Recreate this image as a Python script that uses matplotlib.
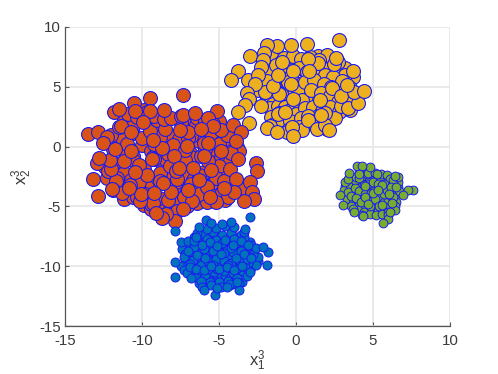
import matplotlib
matplotlib.use("Agg")
import matplotlib.pyplot as plt

plt.rcParams['font.family'] = ['Liberation Sans', 'DejaVu Sans']
plt.rcParams['axes.unicode_minus'] = False
plt.rcParams['mathtext.fontset'] = 'custom'
plt.rcParams['mathtext.rm'] = 'Liberation Sans'
plt.rcParams['mathtext.it'] = 'Liberation Sans'
plt.rcParams['mathtext.default'] = 'regular'

x_ticks = [-15, -10, -5, 0, 5, 10]
y_ticks = [-15, -10, -5, 0, 5, 10]

orange_x = [-11.2,-10.6,-9.9,-9.3,-8.7,-8.1,-7.4,-6.8,-6.2,-5.6,-5.0,-4.4,
 -11.9,-11.3,-10.6,-10.0,-9.4,-8.8,-8.2,-7.6,-6.9,-6.3,-5.7,-5.1,-4.5,-3.8,
 -12.4,-11.8,-11.2,-10.5,-9.9,-9.3,-8.7,-8.0,-7.4,-6.8,-6.2,-5.6,-4.9,-4.3,-3.7,
 -11.6,-11.0,-10.4,-9.8,-9.1,-8.5,-7.9,-7.3,-6.7,-6.0,-5.4,-4.8,-4.1,-3.5,
 -11.2,-10.6,-9.9,-9.4,-8.8,-8.2,-7.6,-7.0,-6.4,-5.8,-5.2,-4.6,
 -9.4,-8.9,-8.3,-7.7,-7.1,-6.5,
 -12.9,-12.3,-11.6,-11.1,-10.7,-10.2,-9.7,-9.2,-8.8,-8.3,-7.8,-7.2,-6.8,-6.3,-5.9,-5.4,-5.0,-4.6,
 -12.5,-12.0,-11.5,-11.0,-10.5,-10.0,-9.5,-9.0,-8.5,-8.0,-7.5,-7.0,-6.5,-6.0,-5.5,-5.0,-4.5,-4.2,
 -12.2,-11.7,-11.2,-10.7,-10.2,-9.7,-9.2,-8.7,-8.2,-7.7,-7.2,-6.7,-6.2,-5.7,-5.2,-4.7,-4.3,-3.9,
 -11.9,-11.3,-10.8,-10.3,-9.8,-9.3,-8.8,-8.3,-7.8,-7.3,-6.8,-6.3,-5.8,-5.3,-4.8,-4.4,
 -10.9,-10.3,-9.7,-9.2,-8.6,-8.1,-7.5,-7.0,-6.4,-5.9,-5.4,-4.9,
 -7.36,-9.48,-10.52,-11.8,-11.47,-10.45,-9.48,-8.55,-7.32,-6.58,-5.11,-5.69,-4.07,-5.41,-3.6,-3.9,
 -13.49,-12.84,-12.25,-11.39,-10.69,-9.96,-9.27,-7.53,-6.19,-7.08,-5.74,-4.89,-3.77,-2.6,-2.55,-2.99,
 -2.88,-2.73,-3.38,-4.03,-4.65,-5.22,-5.61,-6.73,-7.32,-7.86,-8.44,-8.72,-9.09,-10.13,-10.07,-10.84,
 -11.95,-12.86,-13.2,-11.99,-12.08,-12.77,-12.55,-11.75,-10.45,-9.33,-7.9,-7.6,-6.0,-5.52,-6.28,-6.99,
 -8.14,-8.66,-9.2]
orange_y = [2.3,1.1,3.1,1.7,2.7,0.9,1.9,2.2,1.2,1.5,2.1,0.7,
 -0.2,0.7,-0.8,0.1,-0.4,0.8,-0.3,0.6,-0.5,0.5,-0.6,0.7,-0.1,0.0,
 -1.7,-1.4,-2.2,-1.2,-1.9,-0.9,-1.4,-2.3,-1.4,-0.9,-0.8,-2.2,-0.9,-1.2,-0.4,
 -2.6,-3.4,-2.0,-2.9,-3.1,-1.0,-3.4,-2.4,-2.8,-2.1,-3.5,-2.0,-3.3,-3.5,
 -4.4,-4.2,-4.9,-5.2,-4.9,-5.2,-4.6,-3.5,-4.7,-4.6,-4.4,-4.5,
 -4.8,-4.3,-5.6,-5.4,-5.0,-3.7,
 -1.4,-2.6,-3.2,-0.5,-2.8,-1.5,-3.4,0.2,-2.2,-0.6,-3.0,-1.1,0.9,-2.4,-0.2,-3.1,-1.6,0.6,
 0.4,1.0,1.6,0.2,1.9,0.7,1.3,2.2,1.5,0.1,2.0,0.7,1.8,0.3,1.1,0.2,1.0,-0.5,
 -2.0,-2.9,-1.2,-0.4,-3.0,-2.4,-1.0,-0.1,-1.6,-2.7,-0.3,-1.8,-3.2,-1.2,-2.6,-2.9,-1.9,-2.7,
 -3.6,-3.9,-3.2,-4.2,-4.0,-4.7,-2.9,-4.5,-2.0,-4.2,-3.1,-4.0,-3.4,-4.1,-3.8,-4.2,
 2.7,2.5,2.9,2.6,2.3,2.4,2.6,1.2,2.4,2.1,1.9,1.4,
 4.29,4.07,3.67,2.92,3.12,2.98,2.98,3.03,2.64,2.84,2.95,2.42,1.81,1.75,1.19,0.47,
 1.03,1.22,0.78,1.75,1.22,2.09,0.55,1.39,1.45,0.08,0.27,-0.39,-1.04,-1.4,-2.01,-2.93,
 -3.77,-4.38,-4.52,-3.77,-3.49,-4.6,-4.19,-4.57,-5.24,-6.19,-5.63,-5.94,-5.58,-4.52,-3.99,-3.49,
 -3.52,-4.13,-2.71,-1.9,-1.12,-0.98,0.27,-0.17,-2.09,-1.04,-0.78,-1.82,-0.78,-1.98,-2.79,-3.63,
 -3.77,-3.01,-3.91]

yellow_x = [-1.6,-1.0,-0.4,0.2,0.8,1.4,2.0,2.6,3.2,3.7,
 -2.3,-1.7,-1.1,-0.5,0.1,0.7,1.3,1.9,2.5,3.1,
 -2.5,-1.9,-1.3,-0.7,-0.1,0.5,1.1,1.7,2.3,2.9,3.5,
 -1.5,-0.9,-0.3,0.3,0.9,1.5,2.1,
 -1.3,-0.8,-0.2,0.5,1.2,1.8,2.4,
 -1.8,-1.3,-0.8,-0.2,0.3,0.9,1.5,2.1,2.7,3.2,
 -1.9,-1.4,-0.9,-0.3,0.2,0.7,1.3,1.9,2.4,3.0,3.5,
 -2.0,-1.5,-1.0,-0.5,0.1,0.6,1.2,1.8,2.3,2.9,3.4,
 -1.7,-1.2,-0.7,-0.1,0.4,1.0,1.6,2.2,2.7,
 -1.6,-1.1,-0.5,0.0,0.6,1.1,1.7,2.2,2.8,
 -1.4,-0.9,-0.4,0.3,0.9,1.4,2.0,
 -0.5,0.2,0.8,1.4,2.0,2.5,-1.2,-0.6,0.4,1.0,1.9,2.9,
 2.77,0.74,-0.35,-1.24,-1.86,-2.08,-2.97,-2.12,-2.27,-3.77,-4.22,-3.1,-2.45,-2.66,-3.2,-3.05,-3.31,
 -3.77,-3.05,-2.27,-1.1,-1.47,-1.15,-0.93,-0.17,-0.3,-0.22,-0.71,-1.69,-1.9,-1.26,-0.28,-0.22,
 0.76,1.34,1.88,2.16,1.62,1.54,2.32,2.9,3.38,4.03,3.75,4.44,3.31,3.68,2.47,2.58,1.41,0.76,0.82]
yellow_y = [7.6,7.1,6.9,7.0,6.8,7.6,7.7,7.3,6.6,5.8,
 6.2,5.7,5.3,6.4,5.2,5.7,5.0,5.6,5.3,5.2,
 4.7,4.1,4.9,4.2,4.4,4.0,4.2,3.6,3.8,3.4,3.1,
 3.0,3.9,3.1,3.5,3.0,3.9,2.7,
 2.3,1.8,2.4,1.8,2.8,2.1,2.8,
 6.2,6.8,7.4,7.6,7.3,7.5,7.2,6.5,7.1,6.0,
 5.5,5.0,6.1,5.9,6.6,6.2,6.4,6.0,5.8,5.5,4.9,
 4.6,3.6,4.4,5.4,4.8,5.4,5.6,5.2,5.0,4.5,3.9,
 3.2,3.4,3.3,3.6,3.9,4.7,4.5,4.2,3.7,
 2.5,2.8,3.0,2.7,3.2,3.3,3.0,3.3,2.9,
 1.9,2.2,2.1,2.4,2.0,2.6,2.3,
 1.4,1.6,2.6,1.8,1.5,2.4,2.7,1.2,1.4,2.1,2.8,3.4,
 8.94,8.58,8.47,8.44,8.5,7.8,7.55,7.27,6.63,6.29,5.57,5.57,5.99,5.26,4.45,3.98,3.48,
 2.87,1.95,3.39,4.4,5.04,6.0,7.1,6.35,5.2,4.0,2.87,1.72,1.58,1.19,1.67,0.89,
 2.2,1.47,1.81,1.39,2.64,3.92,4.9,4.26,3.2,3.64,4.54,4.68,5.15,6.35,6.91,7.38,6.96,7.3,6.32]

blue_x = [-7.4,-7.0,-6.7,-6.3,-5.9,-5.5,-5.1,-4.7,-4.3,-3.9,-3.5,-3.1,-2.7,
 -7.2,-6.9,-6.5,-6.1,-5.7,-5.3,-4.9,-4.5,-4.1,-3.7,-3.3,-2.9,-2.5,
 -7.5,-7.1,-6.7,-6.3,-5.9,-5.5,-5.1,-4.7,-4.3,-3.9,-3.5,-3.1,-2.7,
 -6.6,-6.2,-5.8,-5.4,-5.0,-4.6,-4.2,-3.8,-3.4,-3.0,
 -6.3,-5.9,-5.5,-5.1,-4.7,-4.3,-3.9,-3.5,
 -7.5,-7.2,-7.0,-7.3,-6.9,-6.6,-6.3,-6.0,-5.7,-5.4,-5.1,-4.8,-4.5,-4.2,-3.9,-3.6,-3.3,-3.0,-2.7,-2.5,
 -7.1,-6.8,-6.5,-6.2,-5.9,-5.6,-5.3,-5.0,-4.7,-4.4,-4.1,-3.8,-3.5,-3.2,-2.9,-2.6,
 -7.0,-6.7,-6.4,-6.1,-5.8,-5.5,-5.2,-4.9,-4.6,-4.3,-4.0,-3.7,-3.4,-3.1,-2.8,
 -6.8,-6.5,-6.2,-5.9,-5.6,-5.3,-5.0,-4.7,-4.4,-4.1,-3.8,-3.5,-3.2,-2.9,-2.6,
 -6.6,-6.3,-6.0,-5.7,-5.4,-5.1,-4.8,-4.5,-4.2,-3.9,-3.6,-3.3,-3.0,
 -6.4,-6.1,-5.8,-5.5,-5.2,-4.9,-4.6,-4.3,-4.0,-3.7,-3.4,
 -6.7,-6.2,-5.7,-5.2,-4.7,-4.2,-3.7,-3.2,-7.3,-6.9,-6.4,-5.9,-5.4,-4.9,-4.4,-3.9,-3.4,-2.9,
 -6.9,-6.5,-6.0,-5.5,-5.0,-4.5,-4.0,-3.5,-3.0,-6.6,-6.1,-5.6,-5.1,-4.6,-4.1,-3.6,-3.1,
 -2.99,-7.86,-5.84,-1.8,-2.16,-1.9,-7.86,-7.83,-5.26,-3.7,-5.95,-5.1,-4.5,-3.85,-5.5,-4.8,-4.2,-6.3,-3.3,-7.0,-6.5]
blue_y = [-8.6,-10.0,-8.2,-7.9,-8.0,-7.8,-7.6,-7.9,-7.7,-7.6,-7.9,-8.5,-9.0,
 -9.4,-10.3,-9.0,-8.7,-8.9,-8.5,-8.6,-8.4,-8.8,-8.6,-8.7,-8.8,-9.6,
 -10.0,-9.3,-10.5,-9.7,-9.7,-9.6,-9.3,-9.3,-9.9,-9.7,-9.4,-9.9,-9.5,
 -10.7,-10.6,-10.9,-10.8,-10.6,-10.8,-10.7,-10.6,-10.5,-10.3,
 -11.4,-11.5,-11.2,-11.6,-11.5,-11.6,-11.5,-11.3,
 -8.0,-9.0,-9.8,-10.3,-8.4,-7.6,-8.9,-7.3,-8.4,-7.1,-8.2,-7.4,-8.6,-7.2,-8.1,-7.4,-8.3,-8.0,-8.6,-9.2,
 -10.6,-9.7,-10.9,-9.5,-10.7,-9.3,-10.5,-9.1,-10.4,-9.3,-10.6,-9.2,-10.4,-9.6,-10.1,-9.9,
 -7.9,-8.9,-7.7,-10.0,-7.7,-9.9,-7.8,-9.8,-7.9,-10.0,-7.7,-9.9,-7.6,-9.7,-9.0,
 -11.0,-9.3,-11.2,-9.0,-11.3,-8.9,-11.3,-8.9,-11.2,-8.8,-11.0,-8.9,-10.8,-8.2,-8.5,
 -8.4,-10.3,-8.6,-10.2,-8.7,-10.2,-8.1,-10.1,-8.5,-10.2,-8.7,-10.1,-9.2,
 -7.2,-11.7,-6.9,-11.6,-6.8,-11.7,-6.6,-11.5,-6.7,-11.4,-7.1,
 -9.5,-9.9,-9.6,-9.4,-9.6,-9.7,-9.5,-9.4,-9.2,-9.8,-9.1,-9.3,-9.9,-9.0,-9.9,-9.3,-9.0,-9.3,
 -10.1,-10.2,-10.3,-10.0,-10.2,-10.1,-10.3,-10.0,-10.5,-7.9,-8.2,-8.0,-8.3,-7.8,-8.2,-7.9,-8.2,
 -5.91,-7.08,-6.14,-8.81,-8.37,-9.93,-9.62,-10.9,-12.44,-12.0,-12.0,-11.8,-11.7,-11.3,-6.4,-6.5,-6.3,-6.7,-6.9,-8.7,-7.6]

green_x = [3.2,3.5,3.8,4.1,4.4,4.7,5.0,5.3,5.6,5.9,6.2,6.5,
 3.3,3.6,3.9,4.2,4.5,4.8,5.1,5.4,5.7,6.0,6.3,6.6,
 3.6,3.9,4.2,4.5,4.8,5.1,5.4,5.7,6.0,6.3,
 4.0,4.3,4.6,4.9,5.2,5.5,5.8,6.1,
 3.1,3.3,3.5,3.7,3.9,4.1,4.3,4.5,4.7,4.9,5.1,5.3,5.5,5.7,5.9,6.1,6.3,6.5,6.7,
 3.2,3.4,3.6,3.8,4.0,4.2,4.4,4.6,4.8,5.0,5.2,5.4,5.6,5.8,6.0,6.2,6.4,6.6,
 3.4,3.6,3.8,4.0,4.2,4.4,4.6,4.8,5.0,5.2,5.4,5.6,5.8,6.0,6.2,6.4,
 3.7,3.9,4.1,4.3,4.5,4.7,4.9,5.1,5.3,5.5,5.7,5.9,6.1,6.3,
 3.9,4.2,4.5,4.8,5.1,5.4,5.7,6.0,6.3,4.1,4.4,4.7,5.0,5.3,5.6,5.9,6.2,
 7.62,7.25,6.97,6.65,6.41,6.21,5.95,5.65,5.24,4.83,3.94,4.3,3.46,4.07,2.84,3.03,3.77,4.33,4.98,
 5.6,6.05,4.5,5.3,6.5,6.1]
green_y = [-3.3,-2.6,-3.9,-2.1,-3.3,-2.1,-3.4,-2.8,-3.0,-3.6,-3.0,-4.0,
 -4.1,-4.5,-4.8,-3.0,-4.9,-3.6,-5.0,-3.0,-4.4,-3.1,-4.7,-3.4,
 -3.4,-5.1,-3.9,-2.9,-4.2,-2.9,-5.2,-2.6,-4.9,-4.5,
 -4.0,-5.3,-2.7,-5.2,-4.2,-4.9,-5.4,-4.6,
 -3.6,-4.4,-3.2,-4.7,-3.0,-4.9,-2.8,-5.1,-2.6,-5.3,-2.5,-5.4,-2.7,-5.2,-3.0,-5.0,-3.3,-4.6,-3.7,
 -3.0,-3.8,-4.1,-2.8,-4.3,-3.4,-4.5,-3.1,-4.5,-3.2,-4.7,-3.4,-4.6,-3.5,-4.4,-3.9,-5.0,-3.0,
 -2.7,-5.0,-3.5,-5.3,-2.5,-5.5,-2.3,-5.6,-3.7,-5.7,-3.9,-5.6,-4.0,-5.5,-4.1,-5.3,
 -5.2,-2.5,-3.7,-5.7,-4.0,-2.2,-3.9,-2.2,-4.1,-2.3,-4.0,-2.4,-2.7,-4.2,
 -4.3,-4.6,-4.2,-5.0,-4.4,-5.0,-3.1,-5.7,-2.8,-2.6,-3.2,-4.8,-3.0,-3.1,-4.9,-3.6,-3.4,
 -3.63,-3.63,-4.05,-2.57,-2.45,-4.74,-6.05,-6.42,-2.29,-1.68,-1.59,-1.65,-2.23,-2.32,-4.05,-4.88,-5.44,-5.77,-3.91,
 -3.2,-4.0,-3.3,-3.6,-3.4,-5.5]

fig = plt.figure(figsize=(4.98, 3.74), dpi=100)
ax = fig.add_axes([65/498, 1 - 326/374, 385/498, 299/374])
ax.scatter(yellow_x, yellow_y, s=100, c='#EDB120', edgecolors='#1A1AF0', linewidths=0.8, zorder=3)
ax.scatter(orange_x, orange_y, s=100, c='#D95319', edgecolors='#1A1AF0', linewidths=0.8, zorder=4)
ax.scatter(blue_x, blue_y, s=42, c='#0072BD', edgecolors='#1A1AF0', linewidths=0.7, zorder=5)
ax.scatter(green_x, green_y, s=40, c='#77AC30', edgecolors='#1A1AF0', linewidths=0.7, zorder=5)

ax.set_xlim(-15, 10)
ax.set_ylim(-15, 10)
ax.set_xticks(x_ticks)
ax.set_yticks(y_ticks)
ax.grid(True, color='#E4E4E4', linewidth=1.1, zorder=0)
ax.set_axisbelow(True)
for side in ['top', 'right']:
    ax.spines[side].set_visible(False)
for side in ['left', 'bottom']:
    ax.spines[side].set_color('#555555')
    ax.spines[side].set_linewidth(0.9)
ax.tick_params(direction='in', length=3, width=0.8, color='#555555', labelcolor='#3A3A3A',
               labelsize=10.8)
ax.tick_params(axis='x', pad=6)
ax.tick_params(axis='y', pad=3)
ax.set_xlabel(r'$x_1^3$', fontsize=12, color='#3A3A3A', labelpad=0)
ax.set_ylabel(r'$x_2^3$', fontsize=12, color='#3A3A3A', labelpad=4)
fig.savefig('out.png', dpi=100)
